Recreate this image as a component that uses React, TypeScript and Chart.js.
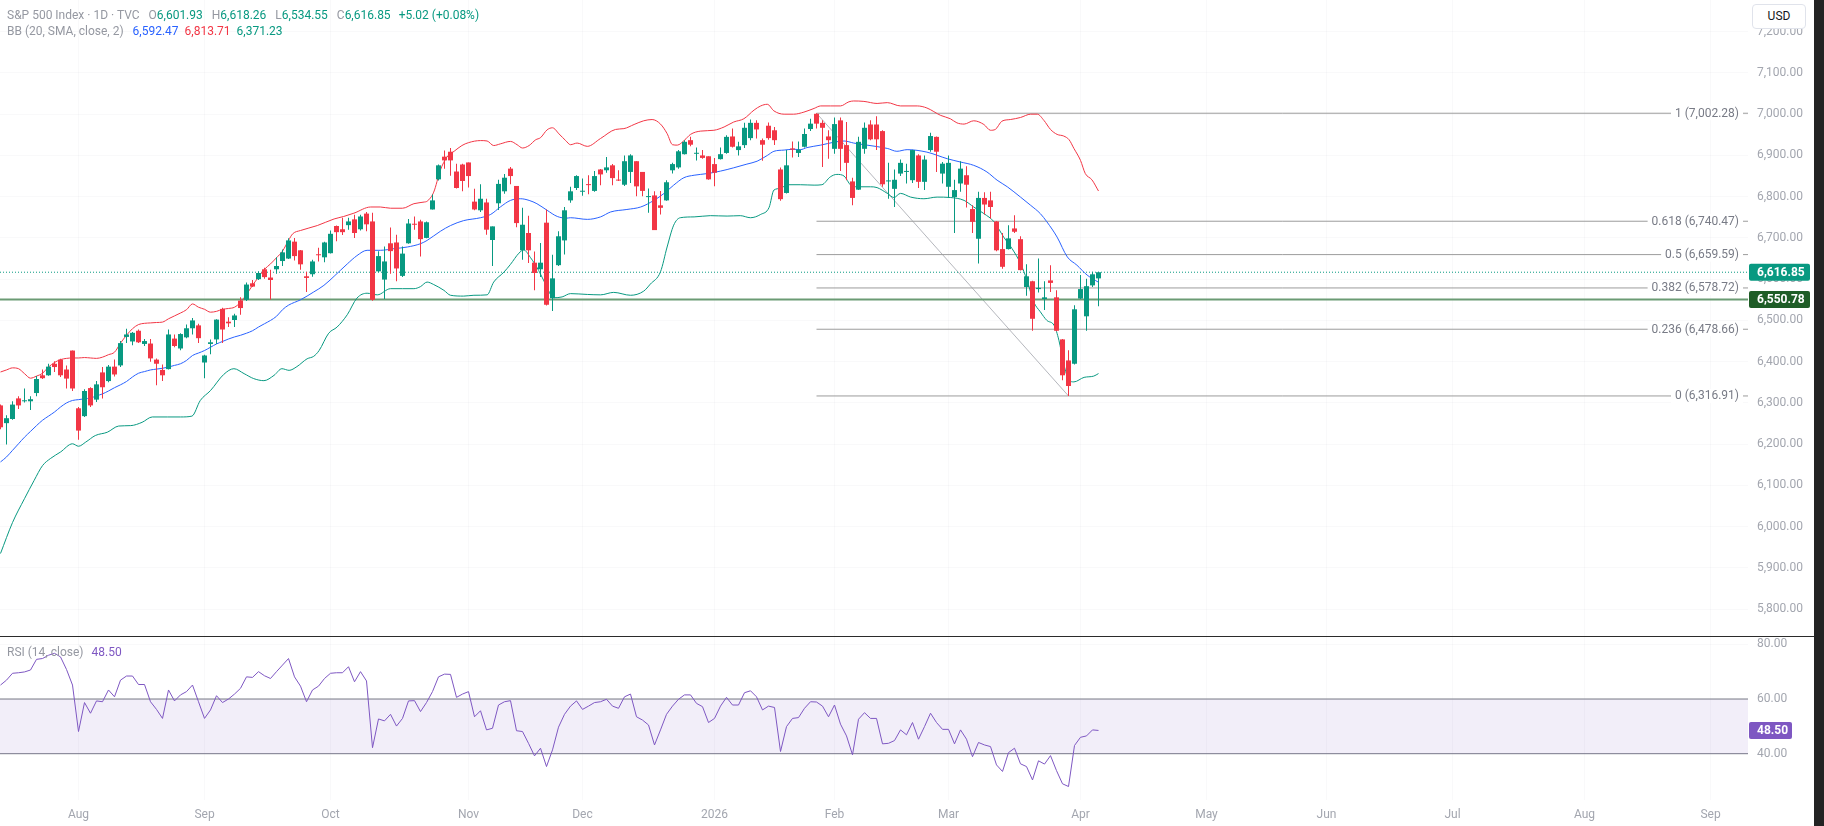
import React, { useEffect, useRef } from 'react';
import { Chart, registerables } from 'chart.js';

Chart.register(...registerables);
Chart.defaults.font.family = 'Roboto, sans-serif';

// ---------- data ----------
const opens = [
  6294, 6251, 6261, 6311, 6304, 6304, 6324, 6367, 6367, 6395,
  6405, 6381, 6427, 6287, 6268, 6336, 6308, 6374, 6353, 6388,
  6391, 6460, 6449, 6475, 6443, 6444, 6405, 6380, 6382, 6456,
  6432, 6459, 6481, 6488, 6398, 6443, 6454, 6528, 6497, 6501,
  6548, 6550, 6590, 6600, 6624, 6604, 6624, 6644, 6650, 6691,
  6670, 6607, 6612, 6660, 6653, 6663, 6729, 6721, 6731, 6745,
  6721, 6759, 6740, 6619, 6599, 6687, 6689, 6608, 6687, 6734,
  6740, 6700, 6769, 6842, 6897, 6909, 6861, 6878, 6883, 6788,
  6767, 6786, 6695, 6784, 6813, 6868, 6826, 6670, 6712, 6640,
  6624, 6737, 6554, 6634, 6694, 6791, 6821, 6812, 6829, 6814,
  6866, 6864, 6876, 6841, 6829, 6860, 6886, 6860, 6799, 6803,
  6779, 6791, 6864, 6871, 6903, 6937, 6904, 6900, 6898, 6879,
  6891, 6906, 6946, 6913, 6925, 6942, 6979, 6937, 6972, 6961,
  6866, 6809, 6917, 6906, 6921, 6964, 7001, 6979, 6946, 6916,
  6985, 6925, 6837, 6817, 6916, 6975, 6975, 6959, 6837, 6819,
  6856, 6860, 6840, 6900, 6836, 6913, 6945, 6856, 6824, 6799,
  6832, 6852, 6770, 6698, 6797, 6791, 6740, 6673, 6673, 6723,
  6697, 6581, 6595, 6576, 6552, 6597, 6556, 6454, 6403, 6395,
  6553, 6510, 6585, 6601.93,
];
const highs = [
  6296, 6270, 6304, 6316, 6335, 6316, 6365, 6381, 6395, 6401,
  6407, 6391, 6427, 6290, 6333, 6338, 6353, 6387, 6392, 6405,
  6450, 6480, 6472, 6478, 6455, 6455, 6408, 6393, 6478, 6466,
  6469, 6490, 6506, 6492, 6417, 6454, 6503, 6531, 6508, 6516,
  6556, 6592, 6598, 6619, 6628, 6623, 6653, 6672, 6699, 6700,
  6671, 6618, 6647, 6676, 6691, 6718, 6730, 6749, 6749, 6756,
  6756, 6763, 6761, 6668, 6679, 6725, 6708, 6679, 6746, 6752,
  6744, 6740, 6805, 6878, 6912, 6918, 6880, 6880, 6883, 6819,
  6830, 6795, 6728, 6841, 6855, 6872, 6826, 6773, 6754, 6667,
  6688, 6769, 6659, 6716, 6775, 6824, 6852, 6844, 6852, 6862,
  6867, 6896, 6879, 6864, 6900, 6903, 6886, 6860, 6820, 6813,
  6814, 6840, 6882, 6913, 6937, 6945, 6919, 6913, 6898, 6894,
  6919, 6949, 6965, 6933, 6979, 6987, 6985, 6941, 6980, 6969,
  6871, 6913, 6934, 6934, 6965, 6989, 7002.28, 6985, 6961, 6992,
  6992, 6981, 6846, 6945, 6980, 6985, 6995, 6961, 6882, 6866,
  6890, 6880, 6914, 6903, 6900, 6955, 6946, 6884, 6900, 6841,
  6886, 6874, 6779, 6812, 6811, 6812, 6741, 6712, 6731, 6755,
  6704, 6636, 6596, 6650, 6595, 6634, 6573, 6455, 6428, 6537,
  6610, 6601, 6618, 6618.26,
];
const lows = [
  6236, 6199, 6259, 6285, 6301, 6283, 6316, 6358, 6366, 6375,
  6363, 6335, 6329, 6211, 6266, 6290, 6302, 6311, 6350, 6364,
  6387, 6445, 6440, 6445, 6438, 6400, 6343, 6353, 6381, 6435,
  6428, 6457, 6466, 6445, 6360, 6418, 6443, 6445, 6484, 6484,
  6514, 6547, 6581, 6598, 6601, 6551, 6613, 6632, 6649, 6645,
  6623, 6569, 6606, 6643, 6641, 6662, 6692, 6707, 6720, 6700,
  6718, 6716, 6548, 6617, 6552, 6613, 6595, 6605, 6686, 6720,
  6655, 6699, 6769, 6839, 6868, 6851, 6820, 6813, 6822, 6767,
  6763, 6708, 6632, 6768, 6807, 6830, 6726, 6647, 6639, 6573,
  6605, 6536, 6523, 6632, 6660, 6785, 6816, 6802, 6806, 6812,
  6828, 6858, 6828, 6838, 6826, 6833, 6801, 6801, 6761, 6719,
  6757, 6790, 6856, 6868, 6902, 6922, 6888, 6892, 6841, 6825,
  6890, 6904, 6919, 6900, 6918, 6937, 6941, 6887, 6938, 6925,
  6790, 6808, 6895, 6896, 6919, 6959, 6965, 6872, 6892, 6904,
  6862, 6840, 6779, 6816, 6904, 6937, 6913, 6824, 6795, 6775,
  6850, 6832, 6833, 6821, 6816, 6909, 6860, 6832, 6797, 6712,
  6812, 6774, 6712, 6638, 6757, 6747, 6668, 6625, 6672, 6712,
  6621, 6560, 6475, 6568, 6525, 6569, 6474, 6355, 6316.91, 6393,
  6552, 6475, 6581, 6534.55,
];
const closes = [
  6241, 6263, 6296, 6294, 6305, 6309, 6358, 6360, 6388, 6387,
  6367, 6359, 6335, 6233, 6329, 6294, 6345, 6338, 6388, 6369,
  6445, 6466, 6470, 6447, 6450, 6408, 6395, 6367, 6466, 6438,
  6467, 6481, 6500, 6457, 6415, 6447, 6502, 6478, 6493, 6512,
  6530, 6587, 6582, 6615, 6605, 6598, 6632, 6665, 6694, 6656,
  6636, 6603, 6643, 6658, 6689, 6710, 6714, 6714, 6740, 6712,
  6752, 6733, 6550, 6656, 6643, 6668, 6626, 6662, 6735, 6732,
  6697, 6738, 6791, 6876, 6888, 6888, 6821, 6838, 6850, 6769,
  6795, 6720, 6728, 6831, 6846, 6850, 6736, 6732, 6670, 6615,
  6640, 6538, 6602, 6704, 6767, 6813, 6850, 6814, 6828, 6850,
  6854, 6871, 6845, 6839, 6886, 6900, 6825, 6814, 6801, 6719,
  6773, 6835, 6879, 6910, 6933, 6926, 6906, 6894, 6842, 6858,
  6903, 6945, 6921, 6922, 6967, 6979, 6963, 6926, 6942, 6937,
  6794, 6876, 6914, 6914, 6952, 6977, 6977, 6967, 6937, 6976,
  6916, 6882, 6797, 6933, 6967, 6939, 6939, 6830, 6839, 6841,
  6882, 6862, 6913, 6836, 6890, 6947, 6909, 6880, 6882, 6816,
  6868, 6829, 6739, 6797, 6781, 6775, 6670, 6630, 6699, 6715,
  6622, 6607, 6504, 6579, 6556, 6591, 6475, 6367, 6341, 6527,
  6576, 6583, 6611.83, 6616.85,
];

// Bollinger Bands (20, 2): [bar index, value]
const bbUpper = [
  [0, 6375], [1, 6380], [2, 6385], [3, 6383], [4, 6371], [5, 6360], [6, 6365], [7, 6372], [8, 6387], [9, 6398],
  [10, 6405], [11, 6408], [12, 6409], [13, 6409], [14, 6410], [15, 6409], [16, 6408], [17, 6411], [18, 6417], [19, 6423],
  [20, 6445], [21, 6464], [22, 6480], [23, 6490], [24, 6493], [25, 6494], [26, 6495], [27, 6496], [28, 6504], [29, 6511],
  [30, 6518], [31, 6526], [32, 6540], [33, 6532], [34, 6527], [35, 6520], [36, 6522], [37, 6527], [38, 6529], [39, 6532],
  [40, 6544], [41, 6563], [42, 6585], [43, 6605], [44, 6624], [45, 6637], [46, 6652], [47, 6668], [48, 6694], [48.7, 6710],
  [50, 6718], [52.8, 6730], [55.6, 6746], [57.2, 6752], [58.9, 6760], [61.7, 6775], [63.3, 6775], [65, 6772], [67, 6772], [68.9, 6783],
  [70.6, 6787], [71.1, 6789], [72.2, 6811], [73.3, 6864], [74.4, 6896], [75.6, 6910], [76.9, 6924], [78, 6931], [80, 6936], [81.1, 6935],
  [82.2, 6924], [83.3, 6928], [85, 6934], [86.1, 6926], [87, 6918], [88.1, 6924], [89.2, 6938], [90, 6943], [91.1, 6962], [92, 6967],
  [93.1, 6952], [94.2, 6936], [95, 6926], [96.1, 6930], [97.8, 6922], [100, 6941], [102.5, 6963], [103.9, 6965], [105.6, 6975], [107.2, 6984],
  [108.6, 6987], [110, 6976], [111.1, 6953], [112, 6926], [112.8, 6925], [114, 6937], [115, 6951], [116.7, 6959], [118.9, 6961], [120.6, 6969],
  [122.2, 6981], [123.9, 6989], [125.6, 7010], [126.7, 7020], [127.8, 7024], [128.9, 7008], [130.6, 7000], [132.2, 7000], [133.9, 7005], [135.6, 7014],
  [136.7, 7020], [138.3, 7020], [140, 7020], [141.4, 7030], [142.2, 7032], [143.9, 7031], [146.1, 7026], [147.8, 7028], [150, 7020], [152.8, 7020],
  [154.4, 7015], [156.7, 6997], [158.3, 6989], [159.4, 6979], [160.6, 6976], [162.2, 6984], [163.9, 6975], [165, 6961], [165.8, 6963], [166.9, 6983],
  [168.3, 6987], [170, 6992], [171.7, 7000], [172.8, 7000], [173.9, 6985], [175, 6963], [176.1, 6951], [177.2, 6947], [178.1, 6938], [178.9, 6917],
  [180, 6888], [180.8, 6856], [181.9, 6841], [183, 6813.71],
];
const bbBasis = [
  [0, 6157], [1, 6169], [2, 6185], [3, 6201], [4, 6217], [5, 6231], [6, 6245], [7, 6258], [8, 6268], [9, 6278],
  [10, 6290], [11, 6300], [12, 6306], [13, 6308], [14, 6310], [15, 6312], [16, 6317], [17, 6322], [18, 6329], [19, 6337],
  [20, 6344], [21, 6352], [22, 6363], [23, 6372], [24, 6376], [25, 6380], [26, 6382], [27, 6384], [28, 6387], [29, 6391],
  [30, 6395], [31, 6403], [32, 6415], [33, 6421], [34, 6427], [35, 6435], [36, 6443], [37, 6449], [38, 6455], [39, 6460],
  [40, 6464], [41, 6469], [42, 6475], [43, 6484], [44, 6492], [45, 6500], [46, 6510], [47, 6526], [48, 6537], [50, 6550],
  [52.2, 6569], [53.9, 6585], [55.6, 6607], [57.8, 6637], [59.4, 6657], [61.1, 6670], [63.3, 6670], [65.6, 6674], [67.8, 6678], [70, 6686],
  [71.1, 6694], [73.3, 6716], [75, 6730], [77.2, 6742], [80, 6749], [81.7, 6757], [83.3, 6775], [85, 6791], [86.7, 6795], [88.1, 6791],
  [89.4, 6783], [91.1, 6767], [92.8, 6752], [94.4, 6748], [95, 6749], [97.8, 6745], [100, 6751], [101.7, 6763], [104.4, 6769], [106.7, 6775],
  [108.9, 6791], [110.6, 6808], [112.2, 6828], [113.9, 6846], [115.6, 6852], [117.8, 6856], [120, 6862], [122.2, 6870], [124.4, 6879], [126.1, 6886],
  [127.8, 6900], [128.9, 6910], [130.6, 6913], [132.2, 6915], [133.3, 6914], [134.4, 6919], [136.7, 6925], [138.9, 6932], [140.6, 6935], [142.2, 6930],
  [144.4, 6925], [147.8, 6917], [149.4, 6910], [151.1, 6914], [154.4, 6908], [157.8, 6892], [160, 6884], [162.2, 6876], [164.4, 6860], [166.1, 6840],
  [167.8, 6824], [170, 6799], [171.7, 6779], [173.3, 6759], [174.4, 6739], [176.1, 6702], [177.8, 6654], [179.4, 6634], [181.1, 6610], [183, 6592.47],
];
const bbLower = [
  [0, 5935], [2, 6010], [4, 6068], [5.6, 6112], [7, 6148], [8.3, 6165], [10, 6181], [12, 6201], [13, 6195], [14.2, 6205],
  [15.8, 6221], [17.8, 6229], [19.7, 6244], [21.7, 6245], [23.6, 6253], [25.3, 6266], [27.8, 6266], [30, 6266], [31.9, 6268], [33.3, 6306],
  [35, 6330], [37.2, 6369], [38.9, 6383], [40.6, 6371], [42.2, 6359], [43.9, 6354], [45.6, 6367], [46.9, 6383], [48.1, 6379], [49.4, 6388],
  [51.1, 6407], [52.2, 6413], [53.1, 6427], [54.7, 6469], [56.1, 6484], [57.8, 6514], [59.4, 6554], [61.1, 6566], [62.8, 6562], [65, 6577],
  [67, 6577], [68.9, 6577], [70, 6582], [71.1, 6593], [72.2, 6587], [73.9, 6573], [75, 6561], [77.2, 6559], [78.9, 6561], [81.1, 6562],
  [82.2, 6593], [83.9, 6617], [85, 6636], [86.4, 6663], [87.2, 6671], [88.3, 6653], [89.7, 6621], [90.8, 6589], [92.2, 6555], [93.6, 6557],
  [95, 6565], [97.8, 6563], [100, 6562], [102.2, 6568], [105, 6561], [107.2, 6571], [108.3, 6588], [110, 6618], [111.1, 6678], [112.2, 6731],
  [113.3, 6749], [115.6, 6751], [118.3, 6754], [121.1, 6753], [123.3, 6754], [125, 6749], [126.7, 6757], [128.1, 6774], [128.9, 6816], [130, 6820],
  [131.1, 6829], [133.3, 6829], [135.6, 6828], [136.9, 6829], [138.3, 6848], [139.4, 6854], [140.6, 6850], [141.7, 6828], [142.8, 6824], [145, 6824],
  [146.1, 6822], [147.8, 6808], [148.9, 6798], [150, 6808], [151.7, 6799], [153.9, 6795], [156.1, 6799], [158.3, 6798], [160.6, 6791], [162.2, 6775],
  [163.9, 6759], [165.6, 6739], [167.2, 6702], [168.6, 6674], [170, 6638], [171.1, 6597], [172.2, 6545], [173.3, 6521], [174.4, 6500], [175.6, 6488],
  [176.4, 6452], [177.2, 6395], [178.1, 6355], [178.9, 6351], [180.6, 6362], [182.2, 6365], [183, 6371.23],
];

// RSI (14, close), one value per bar
const rsi = [
  65.1, 66.9, 69.4, 69.6, 69.9, 70.6, 74.5, 74.8, 76.0, 76.7,
  75.4, 70.8, 65.1, 48.1, 58.7, 54.8, 59.3, 59.0, 63.3, 60.8,
  66.9, 68.4, 68.4, 65.3, 65.3, 59.0, 56.2, 52.9, 63.3, 59.3,
  61.5, 62.7, 65.1, 59.0, 52.9, 56.0, 61.2, 58.7, 60.0, 61.8,
  63.9, 68.1, 67.9, 70.0, 68.5, 67.5, 70.0, 72.4, 74.8, 68.1,
  64.7, 59.0, 63.3, 64.7, 67.5, 69.4, 69.6, 69.6, 71.8, 66.3,
  70.0, 66.6, 42.2, 52.7, 52.0, 54.4, 50.1, 52.9, 59.3, 59.4,
  55.4, 58.7, 62.7, 68.1, 69.1, 69.0, 60.6, 61.8, 62.7, 53.5,
  55.7, 48.7, 49.3, 57.8, 59.0, 59.4, 48.4, 48.1, 43.8, 39.2,
  42.0, 35.3, 41.4, 49.7, 54.4, 57.4, 59.3, 56.2, 57.4, 58.7,
  59.0, 59.9, 57.4, 56.6, 60.8, 61.8, 53.5, 52.3, 50.5, 43.2,
  48.7, 54.4, 57.4, 59.9, 61.5, 61.5, 58.4, 57.2, 51.4, 52.9,
  57.4, 60.6, 57.8, 57.8, 62.3, 63.0, 60.8, 56.0, 57.4, 56.9,
  40.8, 49.9, 52.9, 53.2, 56.6, 59.0, 58.9, 57.4, 53.5, 57.8,
  50.8, 46.5, 39.6, 52.6, 55.0, 52.9, 52.9, 43.6, 43.8, 44.8,
  48.7, 46.9, 51.4, 45.3, 49.9, 54.8, 51.4, 48.9, 48.9, 43.6,
  48.7, 45.3, 38.9, 44.1, 43.2, 42.6, 35.9, 33.5, 40.4, 42.0,
  36.3, 35.3, 30.4, 37.4, 36.2, 39.3, 33.8, 29.0, 28.0, 43.0,
  46.0, 46.5, 48.7, 48.5,
];

// time axis: bar index of first trading day of each month
const monthTicks = [13, 34, 55, 78, 97, 119, 139, 158, 180, 201, 221, 242, 264, 285];
const monthLabels = ['Aug', 'Sep', 'Oct', 'Nov', 'Dec', '2026', 'Feb', 'Mar', 'Apr', 'May', 'Jun', 'Jul', 'Aug', 'Sep'];
const priceTicks = [5800, 5900, 6000, 6100, 6200, 6300, 6400, 6500, 6600, 6700, 6800, 6900, 7000, 7100, 7200];
const rsiTicks = [40, 60, 80];
const rsiBands = [60, 40];

// Fibonacci retracement drawing
const fibLevels = ['1', '0.618', '0.5', '0.382', '0.236', '0'];
const fibPrices = [7002.28, 6740.47, 6659.59, 6578.72, 6478.66, 6316.91];
const fibFrom = 136;
const fibTo = 178;
const supportLevel = 6550.78;

// ---------- styling / layout ----------
const UP = '#089981';
const DOWN = '#f23645';
const BLUE = '#2962ff';
const PURPLE = '#7e57c2';
const GRID = 'rgba(42,46,57,0.028)';
const AXIS_TXT = '#a3a6af';
const LEGEND_GRAY = '#9598a1';
const AXIS_W = 66;
const CANVAS_W = 1814;
const PRICE_H = 636;
const RSI_TOP = 637;
const RSI_H = 189;
const X_MIN = -1 / 12;
const X_MAX = 291.25;
const P_MIN = 5735.0;
const P_MAX = 7276.8;
const R_MIN = 23.07;
const R_MAX = 82.67;

const fmt = (v: number, d = 2) =>
  v.toLocaleString('en-US', { minimumFractionDigits: d, maximumFractionDigits: d });

const pts = (arr: number[][]) => arr.map(([x, y]) => ({ x, y }));
const hline = (y: number, x0 = X_MIN) => [{ x: x0, y }, { x: X_MAX, y }];

const lineDs = (data: any[], color: string, width = 1, extra: any = {}) => ({
  type: 'line',
  data,
  borderColor: color,
  borderWidth: width,
  pointRadius: 0,
  pointHoverRadius: 0,
  fill: false,
  tension: 0,
  ...extra,
});

const candleColor = (c: any) => (closes[c.dataIndex] >= opens[c.dataIndex] ? UP : DOWN);

const xScaleBase = {
  type: 'linear',
  min: X_MIN,
  max: X_MAX,
  offset: false,
  bounds: 'data',
  afterBuildTicks: (s: any) => {
    s.ticks = monthTicks.map((v) => ({ value: v }));
  },
  grid: { color: GRID, drawTicks: false, offset: false },
  border: { display: false },
};

function drawBox(ctx: CanvasRenderingContext2D, left: number, py: number, w: number, bg: string, txt: string) {
  ctx.fillStyle = bg;
  ctx.beginPath();
  (ctx as any).roundRect(left, py - 8.5, w, 17, 2);
  ctx.fill();
  ctx.fillStyle = '#ffffff';
  ctx.font = 'bold 12px Roboto';
  ctx.textAlign = 'left';
  ctx.textBaseline = 'middle';
  ctx.fillText(txt, left + 8, py + 0.5);
}

export default function App() {
  const priceRef = useRef<HTMLCanvasElement>(null);
  const rsiRef = useRef<HTMLCanvasElement>(null);

  useEffect(() => {
    document.body.style.margin = '0';
    const idx = closes.map((_, i) => i);
    const last = closes.length - 1;

    const priceChart = new Chart(priceRef.current as HTMLCanvasElement, {
      type: 'bar',
      data: {
        datasets: [
          {
            type: 'bar',
            data: idx.map((i) => ({ x: i, y: [opens[i], closes[i]] })),
            backgroundColor: candleColor,
            barThickness: 5,
            maxBarThickness: 5,
            minBarLength: 1,
            grouped: false,
            borderWidth: 0,
            inflateAmount: 0,
            order: 0,
          } as any,
          {
            type: 'bar',
            data: idx.map((i) => ({ x: i, y: [lows[i], highs[i]] })),
            backgroundColor: candleColor,
            barThickness: 1,
            maxBarThickness: 1,
            minBarLength: 1,
            grouped: false,
            borderWidth: 0,
            inflateAmount: 0,
            order: 1,
          } as any,
          lineDs(pts(bbUpper), DOWN, 1, { cubicInterpolationMode: 'monotone', order: 3 }),
          lineDs(pts(bbBasis), BLUE, 1, { cubicInterpolationMode: 'monotone', order: 3 }),
          lineDs(pts(bbLower), UP, 1, { cubicInterpolationMode: 'monotone', order: 3 }),
          lineDs(hline(supportLevel), '#6b9b74', 2, { order: 6 }),
          lineDs(hline(closes[last]), UP, 1, { borderDash: [1, 2], order: 6 }),
          ...fibPrices.map((p) => lineDs(hline(p, fibFrom), '#9c9c9c', 1, { order: 7 })),
          lineDs(
            [
              { x: fibFrom, y: fibPrices[0] },
              { x: fibTo, y: fibPrices[fibPrices.length - 1] },
            ],
            'rgba(120,123,134,0.55)',
            1,
            { order: 7 }
          ),
        ] as any,
      },
      options: {
        responsive: false,
        animation: false,
        devicePixelRatio: 1,
        events: [],
        layout: { padding: 0 },
        plugins: { legend: { display: false }, tooltip: { enabled: false } },
        scales: {
          x: {
            ...xScaleBase,
            ticks: { display: false },
            afterFit: (s: any) => {
              s.height = 0;
              s.paddingLeft = 0;
              s.paddingRight = 0;
            },
          },
          y: {
            type: 'linear',
            position: 'right',
            min: P_MIN,
            max: P_MAX,
            bounds: 'data',
            afterBuildTicks: (s: any) => {
              s.ticks = priceTicks.map((v) => ({ value: v }));
            },
            afterFit: (s: any) => {
              s.width = AXIS_W;
              s.paddingTop = 0;
              s.paddingBottom = 0;
            },
            ticks: {
              callback: (v: any) => fmt(Number(v)),
              color: AXIS_TXT,
              font: { size: 12, family: 'Roboto' },
              padding: 9,
              autoSkip: false,
            },
            grid: { color: GRID, drawTicks: false },
            border: { display: false },
          },
        } as any,
      },
      plugins: [
        {
          id: 'priceOverlay',
          afterDraw(chart: any) {
            const { ctx, chartArea, scales } = chart;
            const y = scales.y;
            ctx.save();
            ctx.font = '12px Roboto';
            ctx.textBaseline = 'middle';
            fibPrices.forEach((p, k) => {
              const py = y.getPixelForValue(p);
              const txt = `${fibLevels[k]} (${fmt(p)})`;
              const w = ctx.measureText(txt).width;
              const xr = chartArea.right - 9;
              ctx.fillStyle = '#ffffff';
              ctx.fillRect(xr - w - 4, py - 7, w + 8, 14);
              ctx.fillStyle = '#787b86';
              ctx.textAlign = 'right';
              ctx.fillText(txt, xr, py + 0.5);
            });
            drawBox(ctx, chartArea.right + 1, y.getPixelForValue(closes[last]), 61, UP, fmt(closes[last]));
            drawBox(ctx, chartArea.right + 1, y.getPixelForValue(supportLevel), 61, '#1f5d27', fmt(supportLevel));
            ctx.restore();
          },
        },
      ],
    } as any);

    const rsiChart = new Chart(rsiRef.current as HTMLCanvasElement, {
      type: 'line',
      data: {
        datasets: [
          lineDs(rsi.map((v, i) => ({ x: i, y: v })), PURPLE, 1, { order: 0 }),
          lineDs(hline(rsiBands[0]), '#787b86', 1, { fill: '+1', backgroundColor: 'rgba(126,87,194,0.1)', order: 2 }),
          lineDs(hline(rsiBands[1]), '#787b86', 1, { order: 2 }),
        ] as any,
      },
      options: {
        responsive: false,
        animation: false,
        devicePixelRatio: 1,
        events: [],
        layout: { padding: 0 },
        plugins: { legend: { display: false }, tooltip: { enabled: false } },
        scales: {
          x: {
            ...xScaleBase,
            ticks: {
              display: true,
              autoSkip: false,
              maxRotation: 0,
              color: AXIS_TXT,
              font: { size: 12, family: 'Roboto' },
              padding: 8,
              callback: (v: any) => {
                const k = monthTicks.indexOf(Number(v));
                return k >= 0 ? monthLabels[k] : '';
              },
            },
            afterFit: (s: any) => {
              s.height = 26;
              s.paddingLeft = 0;
              s.paddingRight = 0;
            },
          },
          y: {
            type: 'linear',
            position: 'right',
            min: R_MIN,
            max: R_MAX,
            bounds: 'data',
            afterBuildTicks: (s: any) => {
              s.ticks = rsiTicks.map((v) => ({ value: v }));
            },
            afterFit: (s: any) => {
              s.width = AXIS_W;
              s.paddingTop = 0;
              s.paddingBottom = 0;
            },
            ticks: {
              callback: (v: any) => Number(v).toFixed(2),
              color: AXIS_TXT,
              font: { size: 12, family: 'Roboto' },
              padding: 9,
              autoSkip: false,
            },
            grid: { color: GRID, drawTicks: false },
            border: { display: false },
          },
        } as any,
      },
      plugins: [
        {
          id: 'rsiOverlay',
          afterDraw(chart: any) {
            const { ctx, chartArea, scales } = chart;
            ctx.save();
            drawBox(ctx, chartArea.right + 1, scales.y.getPixelForValue(rsi[last]), 43, PURPLE, rsi[last].toFixed(2));
            ctx.restore();
          },
        },
      ],
    } as any);

    return () => {
      priceChart.destroy();
      rsiChart.destroy();
    };
  }, []);

  const last = closes.length - 1;
  const change = closes[last] - closes[last - 1];
  const pct = (change / closes[last - 1]) * 100;
  const ohlc: [string, number][] = [
    ['O', opens[last]],
    ['H', highs[last]],
    ['L', lows[last]],
    ['C', closes[last]],
  ];
  const bbLast = [
    [bbBasis[bbBasis.length - 1][1], BLUE],
    [bbUpper[bbUpper.length - 1][1], DOWN],
    [bbLower[bbLower.length - 1][1], UP],
  ] as [number, string][];

  const legendStyle: React.CSSProperties = {
    position: 'absolute',
    left: 7,
    font: '12px Roboto, sans-serif',
    lineHeight: '16px',
    whiteSpace: 'nowrap',
    color: LEGEND_GRAY,
  };

  return (
    <div
      style={{
        position: 'relative',
        width: 1824,
        height: 826,
        background: '#ffffff',
        overflow: 'hidden',
        fontFamily: 'Roboto, sans-serif',
      }}
    >
      <canvas ref={priceRef} width={CANVAS_W} height={PRICE_H} style={{ position: 'absolute', left: 0, top: 0 }} />
      <canvas ref={rsiRef} width={CANVAS_W} height={RSI_H} style={{ position: 'absolute', left: 0, top: RSI_TOP }} />
      <div style={{ position: 'absolute', left: 0, top: PRICE_H, width: CANVAS_W, height: 1, background: '#2b2b2b' }} />
      <div style={{ position: 'absolute', left: CANVAS_W, top: 0, width: 1824 - CANVAS_W, height: 826, background: '#232323' }} />

      <div style={{ ...legendStyle, top: 7 }}>
        <span>{'S&P 500 Index · 1D · TVC'}</span>
        {ohlc.map(([k, v]) => (
          <span key={k} style={{ marginLeft: 9 }}>
            <span style={{ color: LEGEND_GRAY }}>{k}</span>
            <span style={{ color: UP }}>{fmt(v)}</span>
          </span>
        ))}
        <span style={{ marginLeft: 8, color: UP }}>
          {`${change >= 0 ? '+' : ''}${fmt(change)} (${change >= 0 ? '+' : ''}${pct.toFixed(2)}%)`}
        </span>
      </div>
      <div style={{ ...legendStyle, top: 23 }}>
        <span>BB (20, SMA, close, 2)</span>
        {bbLast.map(([v, c], k) => (
          <span key={k} style={{ marginLeft: k === 0 ? 9 : 6, color: c }}>
            {fmt(v)}
          </span>
        ))}
      </div>
      <div style={{ ...legendStyle, top: 644 }}>
        <span>RSI (14, close)</span>
        <span style={{ marginLeft: 8, color: PURPLE }}>{rsi[last].toFixed(2)}</span>
      </div>

      <div
        style={{
          position: 'absolute',
          left: 1752,
          top: 4,
          width: 54,
          height: 25,
          boxSizing: 'border-box',
          border: '1px solid #e0e3eb',
          borderRadius: 4,
          background: '#ffffff',
          color: '#131722',
          font: '400 12px Roboto, sans-serif',
          lineHeight: '22px',
          textAlign: 'center',
        }}
      >
        USD
      </div>
    </div>
  );
}
